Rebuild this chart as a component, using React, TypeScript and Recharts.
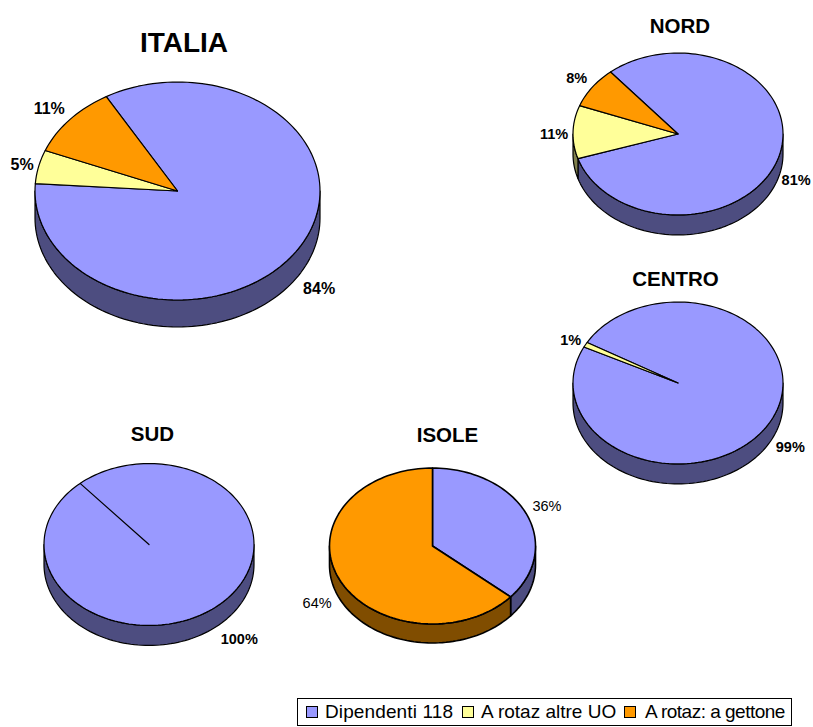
import { PieChart, Pie, Cell } from 'recharts';

const SERIES = ['Dipendenti 118', 'A rotaz altre UO', 'A rotaz: a gettone'];
const ITALIA = [84.4, 5.0, 10.6];
const NORD = [81.2, 10.6, 8.2];
const CENTRO = [99, 1, 0];
const SUD = [100, 0, 0];
const ISOLE = [36.3, 0, 63.7];

const TOP_COLORS = ['#9999FF', '#FFFF99', '#FF9900'];
const WALL_COLORS = ['#4D4D80', '#80804D', '#804D00'];

const FONT = '"Liberation Sans", Arial, sans-serif';
const WIDTH = 813;
const HEIGHT = 727;

const toRows = (values: number[]) => SERIES.map((name, i) => ({ name, value: values[i] }));

// ellipse outline between two angles, in degrees, sampled so it can be joined into a path
function arcPoints(cx: number, cy: number, rx: number, ry: number, from: number, to: number) {
  const steps = Math.max(2, Math.ceil(Math.abs(to - from) / 2));
  const pts: string[] = [];
  for (let i = 0; i <= steps; i++) {
    const a = ((from + ((to - from) * i) / steps) * Math.PI) / 180;
    pts.push(`${(cx + rx * Math.cos(a)).toFixed(2)} ${(cy - ry * Math.sin(a)).toFixed(2)}`);
  }
  return pts;
}

function TiltedTop(props: any) {
  const { cx, cy, outerRadius, startAngle, endAngle, fill, tilt, strokeW } = props;
  if (startAngle === endAngle) return null;
  const pts = arcPoints(cx, cy, outerRadius, outerRadius * tilt, startAngle, endAngle);
  return <path d={`M${cx} ${cy}L${pts.join('L')}Z`} fill={fill} stroke="#000" strokeWidth={strokeW} strokeLinejoin="round" />;
}

// side of the disc: only the part of a slice facing the viewer (180..360 degrees) shows
function TiltedWall(props: any) {
  const { cx, cy, outerRadius, startAngle, endAngle, fill, tilt, depth, strokeW } = props;
  if (startAngle === endAngle) return null;
  const hi = Math.max(startAngle, endAngle);
  const lo = Math.min(startAngle, endAngle);
  const parts: any[] = [];
  for (const shift of [0, 360, -360]) {
    const a = Math.max(lo + shift, 180);
    const b = Math.min(hi + shift, 360);
    if (b <= a) continue;
    const ry = outerRadius * tilt;
    const upper = arcPoints(cx, cy, outerRadius, ry, a, b);
    const lower = arcPoints(cx, cy + depth, outerRadius, ry, b, a);
    parts.push(<path key={shift} d={`M${upper.join('L')}L${lower.join('L')}Z`} fill={fill} stroke="#000" strokeWidth={strokeW} strokeLinejoin="round" />);
  }
  return <g>{parts}</g>;
}

function SliceLabel(props: any) {
  const { cx, cy, outerRadius, midAngle, value, tilt, depth, padX, padY, size, bold, nudge, index } = props;
  if (!value) return null;
  const a = (midAngle * Math.PI) / 180;
  const s = Math.sin(a);
  const [nx, ny] = nudge?.[index] ?? [0, 0];
  const x = cx + (outerRadius + padX) * Math.cos(a) + nx;
  const y = cy - (outerRadius * tilt + padY) * s + (s < 0 ? depth : 0) + ny;
  return (
    <text x={x} y={y} textAnchor="middle" dominantBaseline="central" fontFamily={FONT} fontSize={size} fontWeight={bold ? 700 : 400} fill="#000">
      {`${Math.round(value)}%`}
    </text>
  );
}

function TiltedPie({ values, cx, cy, radius, start, tilt, depth, padX, padY, size, bold, strokeW, nudge }: any) {
  const rows = toRows(values);
  const extra = { tilt, depth, strokeW };
  return (
    <>
      <Pie
        data={rows} dataKey="value" cx={cx} cy={cy} outerRadius={radius}
        startAngle={start} endAngle={start - 360} isAnimationActive={false}
        stroke="none" legendType="none" label={false}
        shape={(p: any) => <TiltedWall {...p} {...extra} />}
      >
        {rows.map((r, i) => <Cell key={r.name} fill={WALL_COLORS[i]} />)}
      </Pie>
      <Pie
        data={rows} dataKey="value" cx={cx} cy={cy} outerRadius={radius}
        startAngle={start} endAngle={start - 360} isAnimationActive={false}
        stroke="none" legendType="none" labelLine={false}
        shape={(p: any) => <TiltedTop {...p} {...extra} />}
        label={(p: any) => <SliceLabel {...p} tilt={tilt} depth={depth} padX={padX} padY={padY} size={size} bold={bold} nudge={nudge} />}
      >
        {rows.map((r, i) => <Cell key={r.name} fill={TOP_COLORS[i]} />)}
      </Pie>
    </>
  );
}

function Title({ text, x, y, size }: any) {
  return (
    <div style={{ position: 'absolute', left: x - 100, top: y - size, width: 200, height: size * 2, lineHeight: `${size * 2}px`, textAlign: 'center', fontFamily: FONT, fontWeight: 700, fontSize: size, color: '#000' }}>
      {text}
    </div>
  );
}

// legend slots in px from the page's left edge, and spacing to fit the hinted widths
const LEGEND_SWATCH_X = [306, 462, 624];
const LEGEND_TEXT_X = [325, 481, 645];
const LEGEND_SPACING = [0.12, 0, -0.5];

export default function App() {
  return (
    <div style={{ position: 'absolute', left: 0, top: 0, width: WIDTH, height: HEIGHT, background: '#fff', overflow: 'hidden' }}>
      <PieChart width={WIDTH} height={HEIGHT} margin={{ top: 0, right: 0, bottom: 0, left: 0 }}>
        {TiltedPie({ values: ITALIA, cx: 177.5, cy: 191, radius: 142.5, start: 120, tilt: 0.765, depth: 27, padX: 22, padY: 20, size: 16, bold: true, strokeW: 1.2, nudge: [[2, 2], [5, 2], [-4, 2]] })}
        {TiltedPie({ values: NORD, cx: 678, cy: 134, radius: 105, start: 130, tilt: 0.771, depth: 20, padX: 19, padY: 14, size: 14.5, bold: true, strokeW: 1.2, nudge: [[-1, 0], [0, 2], [0, -1]] })}
        {TiltedPie({ values: CENTRO, cx: 678, cy: 383, radius: 105, start: 150, tilt: 0.771, depth: 20, padX: 19, padY: 12, size: 14.5, bold: true, strokeW: 1.2, nudge: [[3, 0], [2, 1], [0, 0]] })}
        {TiltedPie({ values: SUD, cx: 149, cy: 544.5, radius: 105, start: 131, tilt: 0.771, depth: 20, padX: 28, padY: 18, size: 14.5, bold: true, strokeW: 1.2, nudge: [[3, 0], [0, 0], [0, 0]] })}
        {TiltedPie({ values: ISOLE, cx: 432.5, cy: 546, radius: 103, start: 90, tilt: 0.757, depth: 19, padX: 24, padY: 14, size: 14.5, bold: false, strokeW: 1.6, nudge: [[-1, -2], [0, 0], [0, 0]] })}
      </PieChart>
      <Title text="ITALIA" x={184} y={43} size={28} />
      <Title text="NORD" x={680} y={25} size={20.5} />
      <Title text="CENTRO" x={675.5} y={278} size={20.5} />
      <Title text="SUD" x={152.5} y={433} size={20.5} />
      <Title text="ISOLE" x={447.5} y={434} size={20.5} />
      <div style={{ position: 'absolute', left: 297, top: 698, width: 495, height: 28, boxSizing: 'border-box', border: '1px solid #000', background: '#fff' }} />
      {SERIES.map((name, i) => (
        <span key={name}>
          <span style={{ position: 'absolute', left: LEGEND_SWATCH_X[i], top: 706, width: 12, height: 12, boxSizing: 'border-box', border: '1px solid #000', background: TOP_COLORS[i] }} />
          <span style={{ position: 'absolute', left: LEGEND_TEXT_X[i], top: 699, height: 26, lineHeight: '26px', fontFamily: FONT, fontSize: 19, letterSpacing: LEGEND_SPACING[i], color: '#000', whiteSpace: 'nowrap' }}>
            {name}
          </span>
        </span>
      ))}
    </div>
  );
}
